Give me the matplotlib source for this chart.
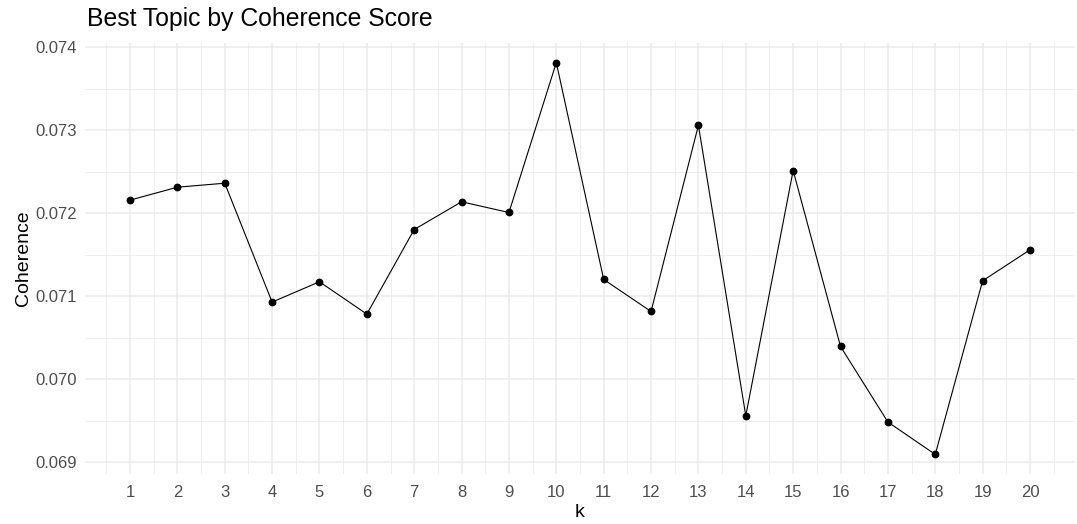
import matplotlib.pyplot as plt
from matplotlib.ticker import MultipleLocator, FormatStrFormatter

plt.rcParams['font.family'] = ['Liberation Sans', 'DejaVu Sans']

# numero de topicos y su coherencia
k = [1, 2, 3, 4, 5, 6, 7, 8, 9, 10, 11, 12, 13, 14, 15, 16, 17, 18, 19, 20]
coherence = [0.072157, 0.072313, 0.072361, 0.070928, 0.071173, 0.070783, 0.071803,
             0.072137, 0.072008, 0.073815, 0.071201, 0.070815, 0.073060, 0.069558,
             0.072514, 0.070393, 0.069482, 0.069092, 0.071185, 0.071558]

fig = plt.figure(figsize=(10.77, 5.24), dpi=100)
ax = fig.add_axes([85 / 1077, 50 / 524, 990 / 1077, 431 / 524])

ax.plot(k, coherence, color='black', linewidth=0.8, zorder=3)
ax.plot(k, coherence, 'o', color='black', markersize=4.6, zorder=4)
ax.margins(x=0.05, y=0.05)

# estilo tipo theme_minimal
ax.set_xticks(k)
ax.xaxis.set_minor_locator(MultipleLocator(1, offset=0.5))
ax.yaxis.set_major_locator(MultipleLocator(0.001))
ax.yaxis.set_minor_locator(MultipleLocator(0.0005))
ax.yaxis.set_major_formatter(FormatStrFormatter('%.3f'))
ax.grid(which='major', color='#EBEBEB', linewidth=1.1, zorder=0)
ax.grid(which='minor', color='#EBEBEB', linewidth=0.6, zorder=0)
ax.set_axisbelow(True)
for s in ax.spines.values():
    s.set_visible(False)
ax.tick_params(which='both', length=0)
ax.tick_params(axis='x', labelsize=12, labelcolor='#4D4D4D', pad=8)
ax.tick_params(axis='y', labelsize=12, labelcolor='#4D4D4D', pad=6)

ax.set_xlabel('k', fontsize=14, labelpad=2.5)
ax.set_ylabel('Coherence', fontsize=14, labelpad=2)
fig.text(87 / 1077, 1 - 19 / 524, 'Best Topic by Coherence Score', fontsize=17.8,
         ha='left', va='center')

fig.savefig('out.png', dpi=100)
